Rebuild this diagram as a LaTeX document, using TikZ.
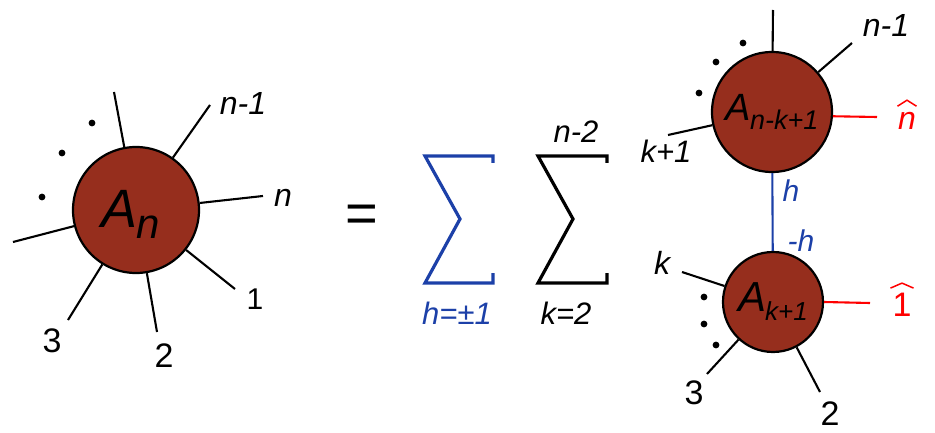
\documentclass[tikz,border=0pt]{standalone}
\usepackage{fontspec}
\setmainfont{Liberation Sans}
\begin{document}
\begin{tikzpicture}[x=1pt,y=-1pt,
  blob/.style={circle,draw=black,line width=2.2pt,fill=blobred,inner sep=0pt},
  leg/.style={line width=2.1pt,draw=black},
  redleg/.style={line width=2.1pt,draw=red},
  blueleg/.style={line width=2.1pt,draw=sumblue},
  sig/.style={line width=3.2pt,line cap=butt,line join=miter},
  lbl/.style={inner sep=0pt,font=\fontsize{32}{32}\selectfont\itshape},
  num/.style={inner sep=0pt,font=\fontsize{34}{34}\selectfont},
  dotm/.style={fill=black}]
\definecolor{blobred}{RGB}{150,46,29}
\definecolor{sumblue}{RGB}{28,64,168}
\useasboundingbox (0,0) rectangle (935,433);

% ---------- left blob ----------
\node[blob,minimum size=126pt] (An) at (136,210) {};
\node[inner sep=0pt] (AnT) at (131,214) {\fontsize{54}{54}\selectfont\itshape A\kern-1pt\raisebox{-11pt}{\fontsize{42}{42}\selectfont n}};
\coordinate (L1) at (114,92);
\coordinate (L2) at (210,105);
\coordinate (L3) at (263,196);
\coordinate (L4) at (235,289);
\coordinate (L5) at (157,332);
\coordinate (L6) at (68,320);
\coordinate (L7) at (13,242);
\foreach \e in {L1,L2,L3,L4,L5,L6,L7} \draw[leg] (An) -- (\e);
\fill[dotm] (42,197) circle (3.4);
\fill[dotm] (62,153) circle (3.4);
\fill[dotm] (92,123) circle (3.4);
\node[lbl] (tn1) at (243,103) {n-1};
\node[lbl] (tn) at (283,198) {n};
\node[num,font=\fontsize{30}{30}\selectfont] (t1) at (255,299) {1};
\node[num] (t2) at (164,356) {2};
\node[num] (t3) at (52,341) {3};

% ---------- equals ----------
\node[inner sep=0pt] (eq) at (362,219) {\fontsize{56}{56}\selectfont =};

% ---------- sums ----------
\coordinate (b1) at (493,163);
\coordinate (b2) at (493,156);
\coordinate (b3) at (425,156);
\coordinate (b4) at (460,219);
\coordinate (b5) at (425,283);
\coordinate (b6) at (493,283);
\coordinate (b7) at (493,273);
\draw[sig,sumblue] (b1) -- (b2) -- (b3) -- (b4) -- (b5) -- (b6) -- (b7);
\coordinate (k1) at (607,163);
\coordinate (k2) at (607,156);
\coordinate (k3) at (538,156);
\coordinate (k4) at (573,219);
\coordinate (k5) at (538,283);
\coordinate (k6) at (607,283);
\coordinate (k7) at (607,273);
\draw[sig,black] (k1) -- (k2) -- (k3) -- (k4) -- (k5) -- (k6) -- (k7);
\node[lbl,font=\fontsize{31}{31}\selectfont\itshape,text=sumblue] (hsum) at (457,313) {h=±1};
\node[lbl,font=\fontsize{31}{31}\selectfont\itshape] (ksum) at (566,313) {k=2};
\node[lbl,font=\fontsize{31}{31}\selectfont\itshape] (nsum) at (576,132) {n-2};

% ---------- top right blob ----------
\node[blob,minimum size=120pt] (At) at (772,112) {};
\node[inner sep=0pt] (AtT) at (772,112) {\fontsize{38}{38}\selectfont\itshape A\kern-1pt\raisebox{-9pt}{\fontsize{27}{27}\selectfont n-k+1}};
\coordinate (T1) at (773,10);
\coordinate (T2) at (852,43);
\coordinate (T3) at (668,135);
\foreach \e in {T1,T2,T3} \draw[leg] (At) -- (\e);
\coordinate (T4) at (877,117);
\draw[redleg] (At.-4) -- (T4);
\fill[dotm] (699,93) circle (3.4);
\fill[dotm] (716,62) circle (3.4);
\fill[dotm] (743,43) circle (3.4);
\node[lbl] (tn1b) at (886,25) {n-1};
\node[lbl,text=red] (nhat) at (907,121) {n};
\draw[red,line width=1.5pt,line join=miter] ([xshift=-9.5pt,yshift=6pt]nhat.north) -- ([yshift=12pt]nhat.north) -- ([xshift=9.5pt,yshift=6pt]nhat.north);
\node[lbl,font=\fontsize{31}{31}\selectfont\itshape] (tk1) at (666,151) {k+1};

% ---------- bottom right blob ----------
\node[blob,minimum size=100pt] (Ab) at (773,302) {};
\node[inner sep=0pt] (AbT) at (773,302) {\fontsize{42}{42}\selectfont\itshape A\kern-1pt\raisebox{-9pt}{\fontsize{26}{26}\selectfont k+1}};
\draw[blueleg] (At) -- (Ab);
\node[lbl,font=\fontsize{30}{30}\selectfont\itshape,text=sumblue] (th) at (791,191) {h};
\node[lbl,font=\fontsize{30}{30}\selectfont\itshape,text=sumblue] (tmh) at (801,241) {-h};
\coordinate (B1) at (682,272);
\coordinate (B2) at (707,374);
\coordinate (B3) at (820,392);
\foreach \e in {B1,B2,B3} \draw[leg] (Ab) -- (\e);
\coordinate (B4) at (870,303);
\draw[redleg] (Ab.east) -- (B4);
\fill[dotm] (704,297) circle (3.4);
\fill[dotm] (704,324) circle (3.4);
\fill[dotm] (716,345) circle (3.4);
\node[lbl] (tk) at (662,263) {k};
\node[num,text=red] (onehat) at (902,305) {1};
\draw[red,line width=1.5pt,line join=miter] ([xshift=-11.5pt,yshift=5pt]onehat.north) -- ([yshift=10pt]onehat.north) -- ([xshift=11.5pt,yshift=5pt]onehat.north);
\node[num] (tb3) at (694,393) {3};
\node[num] (tb2) at (830,414) {2};
\end{tikzpicture}
\end{document}
